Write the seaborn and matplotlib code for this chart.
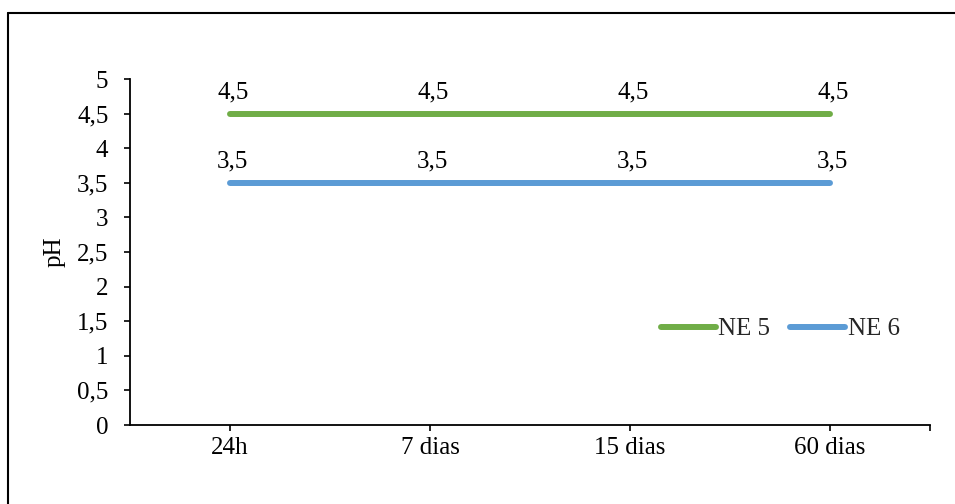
import matplotlib
matplotlib.use("Agg")
import matplotlib.pyplot as plt
from matplotlib.lines import Line2D
from matplotlib.ticker import FuncFormatter, FixedLocator
import seaborn as sns
import pandas as pd

# Sampling times and pH readings per series
categories = ["24h", "7 dias", "15 dias", "60 dias"]
ne5_values = [4.5, 4.5, 4.5, 4.5]
ne6_values = [3.5, 3.5, 3.5, 3.5]
series_names = ["NE 5", "NE 6"]
y_ticks = [0, 0.5, 1, 1.5, 2, 2.5, 3, 3.5, 4, 4.5, 5]

colors = {"NE 5": "#70AD47", "NE 6": "#5B9BD5"}

df = pd.DataFrame({
    "pos": list(range(len(categories))) * 2,
    "pH": ne5_values + ne6_values,
    "serie": [series_names[0]] * len(categories) + [series_names[1]] * len(categories),
})

FS = 18

sns.set_theme(style="white")
plt.rcParams["font.family"] = ["Liberation Serif", "DejaVu Serif"]
plt.rcParams["font.size"] = FS

fig = plt.figure(figsize=(9.55, 5.04), dpi=100)
ax = fig.add_axes([130 / 955, 1 - 425 / 504, 800 / 955, 346 / 504])

sns.lineplot(data=df, x="pos", y="pH", hue="serie", palette=colors,
             linewidth=4.3, ax=ax, legend=False,
             solid_capstyle="round", sort=False)

# Value labels above each point
for name, vals in zip(series_names, [ne5_values, ne6_values]):
    for i, v in enumerate(vals):
        ax.annotate(f"{v:g}".replace(".", ","), (i, v), xytext=(2, 11),
                    textcoords="offset points", ha="center", va="baseline",
                    fontsize=FS, color="black")

ax.set_xlim(-0.5, 3.5)
ax.set_ylim(0, 5)
ax.set_xticks(range(len(categories)))
ax.set_xticklabels(categories, fontsize=FS)
ax.xaxis.set_minor_locator(FixedLocator([3.5]))
ax.set_yticks(y_ticks)
ax.yaxis.set_major_formatter(FuncFormatter(lambda v, p: f"{v:g}".replace(".", ",")))
ax.tick_params(axis="y", labelsize=FS, direction="out", length=4.5, width=1.2,
               left=True, color="black", pad=11, labelcolor="black")
ax.tick_params(axis="x", which="both", direction="out", length=4.5, width=1.2,
               bottom=True, color="black", pad=4, labelcolor="black")
ax.set_xlabel("")
ax.set_ylabel("pH", fontsize=FS, color="black", labelpad=8)

for s in ["top", "right"]:
    ax.spines[s].set_visible(False)
for s in ["left", "bottom"]:
    ax.spines[s].set_color("black")
    ax.spines[s].set_linewidth(1.3)

handles = [Line2D([0], [0], color=colors[n], lw=4.3, solid_capstyle="round")
           for n in series_names]
ax.legend(handles, series_names, loc="center", bbox_to_anchor=(780 / 955, 1 - 329 / 504),
          bbox_transform=fig.transFigure, ncol=2, frameon=False, fontsize=FS,
          handlelength=2.2, handletextpad=0.1, columnspacing=0.8,
          borderpad=0, borderaxespad=0)

# Outer frame of the chart area
fig.add_artist(Line2D([8 / 955, 8 / 955], [0, 1 - 13 / 504], transform=fig.transFigure,
                      color="black", lw=1.5))
fig.add_artist(Line2D([8 / 955, 1], [1 - 13 / 504, 1 - 13 / 504], transform=fig.transFigure,
                      color="black", lw=1.5))

fig.savefig("out.png", dpi=100, facecolor="white")
